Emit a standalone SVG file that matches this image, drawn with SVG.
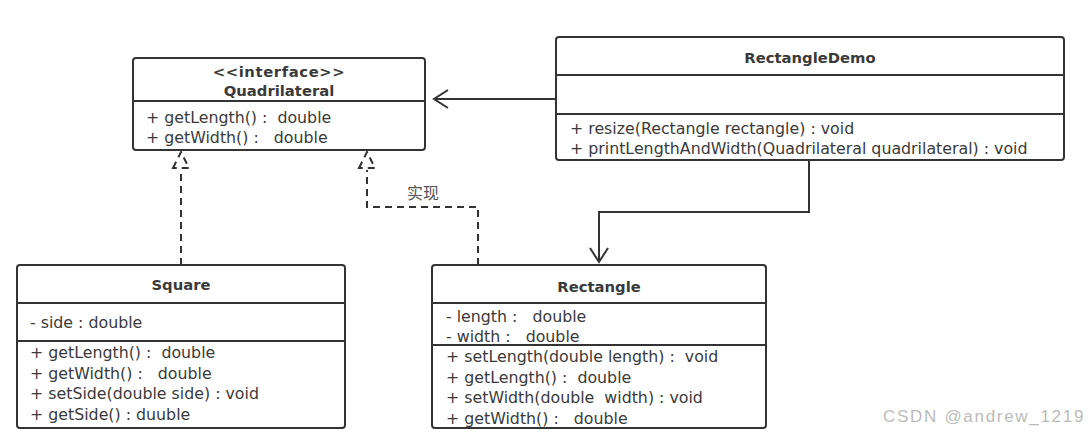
<svg xmlns="http://www.w3.org/2000/svg" width="1090" height="434" viewBox="0 0 1090 434">
<style>
.box{fill:#fff;stroke:#333;stroke-width:2}
.div{stroke:#333;stroke-width:2}
.t{font-family:"DejaVu Sans",sans-serif;font-size:15.8px;fill:#3a3a3a}
.b{font-weight:bold;text-anchor:middle;font-size:14.8px}
.ln{fill:none;stroke:#333;stroke-width:2}
.dash{fill:none;stroke:#333;stroke-width:2;stroke-dasharray:7,5}
.wm{font-family:"Liberation Sans",Arial,sans-serif;font-size:17px;fill:#bbb;letter-spacing:1.7px}
</style>
<rect width="1090" height="434" fill="#fff"/>
<g id="connectors">
  <path class="ln" d="M556,99 L434,99"/>
  <path class="ln" d="M448,90 L434,99 L448,108"/>
  <path class="ln" d="M809,160 L809,212 L599,212 L599,262"/>
  <path class="ln" d="M590,248 L599,262 L608,248"/>
  <path class="dash" d="M181,265 L181,170"/>
  <path class="dash" d="M173,168 L181,152 L189,168 Z" stroke-dasharray="5,3"/>
  <path class="dash" d="M478,265 L478,207 L367,207 L367,170"/>
  <path class="dash" d="M359,168 L367,152 L375,168 Z" stroke-dasharray="5,3"/>
  <text x="423" y="199" text-anchor="middle" font-family="Noto Sans CJK SC, sans-serif" font-size="16" fill="#555">实现</text>
</g>
<g id="Quadrilateral">
  <rect class="box" x="133" y="58" width="292" height="92" rx="3"/>
  <line class="div" x1="133" y1="101" x2="425" y2="101"/>
  <text class="t b" x="279" y="77" letter-spacing="0.6">&lt;&lt;interface&gt;&gt;</text>
  <text class="t b" x="279" y="96">Quadrilateral</text>
  <text class="t" x="146" y="123" xml:space="preserve">+ getLength() :  double</text>
  <text class="t" x="146" y="143" xml:space="preserve">+ getWidth() :   double</text>
</g>
<g id="RectangleDemo">
  <rect class="box" x="556" y="37" width="508" height="123" rx="3"/>
  <line class="div" x1="556" y1="75" x2="1064" y2="75"/>
  <line class="div" x1="556" y1="114" x2="1064" y2="114"/>
  <text class="t b" x="810" y="63">RectangleDemo</text>
  <text class="t" x="570" y="134">+ resize(Rectangle rectangle) : void</text>
  <text class="t" x="570" y="154">+ printLengthAndWidth(Quadrilateral quadrilateral) : void</text>
</g>
<g id="Square">
  <rect class="box" x="17" y="265" width="328" height="163" rx="3"/>
  <line class="div" x1="17" y1="303" x2="345" y2="303"/>
  <line class="div" x1="17" y1="341" x2="345" y2="341"/>
  <text class="t b" x="181" y="290">Square</text>
  <text class="t" x="30" y="328">- side : double</text>
  <text class="t" x="30" y="358" xml:space="preserve">+ getLength() :  double</text>
  <text class="t" x="30" y="379" xml:space="preserve">+ getWidth() :   double</text>
  <text class="t" x="30" y="399">+ setSide(double side) : void</text>
  <text class="t" x="30" y="420">+ getSide() : duuble</text>
</g>
<g id="Rectangle">
  <rect class="box" x="432" y="265" width="334" height="163" rx="3"/>
  <line class="div" x1="432" y1="303" x2="766" y2="303"/>
  <line class="div" x1="432" y1="345" x2="766" y2="345"/>
  <text class="t b" x="599" y="292">Rectangle</text>
  <text class="t" x="446" y="322" xml:space="preserve">- length :   double</text>
  <text class="t" x="446" y="342" xml:space="preserve">- width :   double</text>
  <text class="t" x="446" y="362" xml:space="preserve">+ setLength(double length) :  void</text>
  <text class="t" x="446" y="383" xml:space="preserve">+ getLength() :  double</text>
  <text class="t" x="446" y="403" xml:space="preserve">+ setWidth(double  width) : void</text>
  <text class="t" x="446" y="424" xml:space="preserve">+ getWidth() :   double</text>
</g>
<text class="wm" x="883" y="422">CSDN @andrew_1219</text>
</svg>
